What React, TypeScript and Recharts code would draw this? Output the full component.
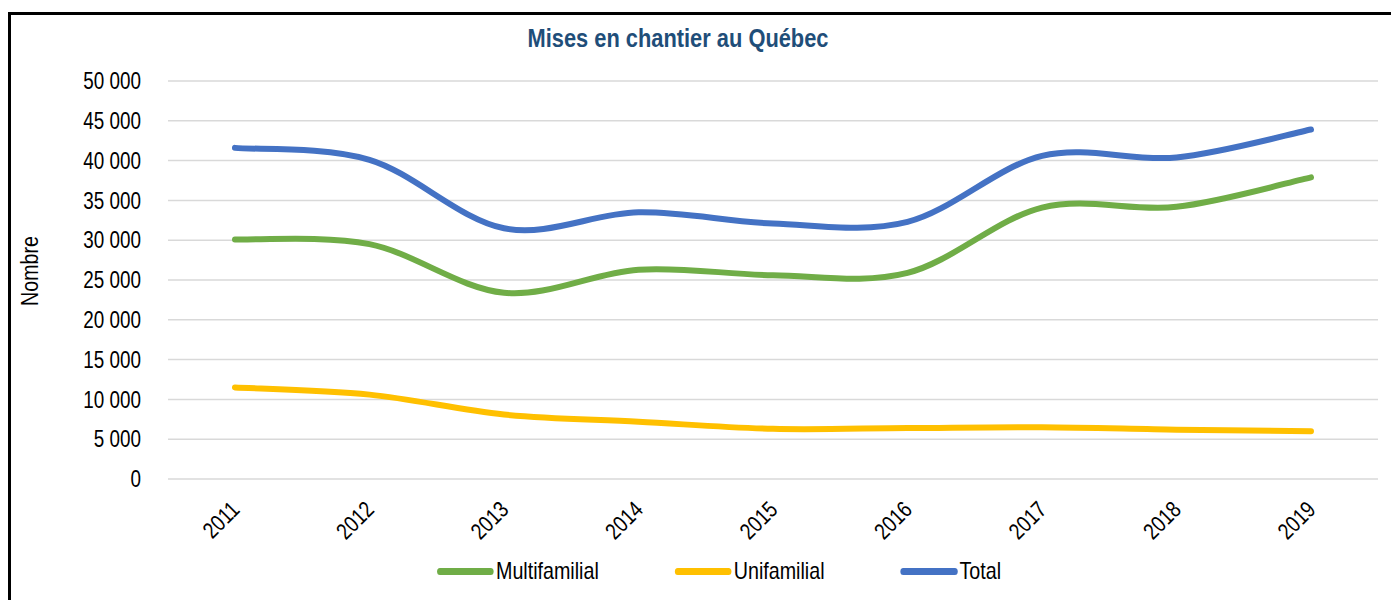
import React from 'react'
import { LineChart, Line, XAxis, YAxis, CartesianGrid, Legend, Label } from 'recharts'

const years = ['2011', '2012', '2013', '2014', '2015', '2016', '2017', '2018', '2019']
const multifamilial = [30100, 29500, 23400, 26300, 25600, 25900, 34100, 34200, 37900]
const unifamilial = [11500, 10600, 8100, 7200, 6300, 6400, 6500, 6200, 6000]
const total = [41600, 40100, 31500, 33500, 32100, 32300, 40600, 40400, 43900]
const yTicks = [0, 5000, 10000, 15000, 20000, 25000, 30000, 35000, 40000, 45000, 50000]

const series = [
  { key: 'Multifamilial', color: '#70AD47' },
  { key: 'Unifamilial', color: '#FFC000' },
  { key: 'Total', color: '#4472C4' },
]

const data = years.map((year, i) => ({
  year,
  Multifamilial: multifamilial[i],
  Unifamilial: unifamilial[i],
  Total: total[i],
}))

const FONT = "'Liberation Sans', Arial, sans-serif"
// no narrow font installed, so squeeze the regular one
const NARROW = 0.82

const formatNumber = (v: number) => String(v).replace(/\B(?=(\d{3})+(?!\d))/g, ' ')

// Excel style smoothing (Catmull-Rom through every point)
const excelCurve = (context: any) => {
  let pts: number[][] = []
  return {
    areaStart() {},
    areaEnd() {},
    lineStart() {
      pts = []
    },
    point(x: number, y: number) {
      pts.push([+x, +y])
    },
    lineEnd() {
      if (!pts.length) return
      context.moveTo(pts[0][0], pts[0][1])
      for (let i = 0; i < pts.length - 1; i++) {
        const p0 = pts[i - 1] || pts[i]
        const p1 = pts[i]
        const p2 = pts[i + 1]
        const p3 = pts[i + 2] || pts[i + 1]
        context.bezierCurveTo(
          p1[0] + (p2[0] - p0[0]) / 6,
          p1[1] + (p2[1] - p0[1]) / 6,
          p2[0] - (p3[0] - p1[0]) / 6,
          p2[1] - (p3[1] - p1[1]) / 6,
          p2[0],
          p2[1]
        )
      }
    },
  }
}

const YearTick = ({ x, y, payload }: any) => (
  <g transform={`translate(${x + 6},${y + 32}) rotate(-45) scale(${NARROW},1)`}>
    <text textAnchor="end" fill="#000" fontSize={23} fontFamily={FONT}>
      {payload.value}
    </text>
  </g>
)

const ValueTick = ({ x, y, payload }: any) => (
  <g transform={`translate(${x},${y}) scale(${NARROW},1)`}>
    <text textAnchor="end" dy="0.355em" fill="#000" fontSize={23} fontFamily={FONT}>
      {formatNumber(payload.value)}
    </text>
  </g>
)

const renderLegend = () => (
  <div
    style={{
      display: 'flex',
      alignItems: 'center',
      height: 30,
      paddingLeft: 437 / NARROW,
      gap: 76 / NARROW,
      fontFamily: FONT,
      fontSize: 24,
      color: '#000',
      transform: `scaleX(${NARROW})`,
      transformOrigin: '0 0',
      whiteSpace: 'nowrap',
    }}
  >
    {series.map((s) => (
      <div key={s.key} style={{ display: 'flex', alignItems: 'center', gap: 2 / NARROW }}>
        <div style={{ width: 57 / NARROW, height: 7, borderRadius: 4, background: s.color }} />
        <span>{s.key}</span>
      </div>
    ))}
  </div>
)

export default function App() {
  return (
    <div style={{ position: 'absolute', left: 0, top: 0, width: 1391, height: 600, overflow: 'hidden', background: '#fff' }}>
      <div
        style={{
          position: 'absolute',
          left: 8,
          top: 12,
          width: 1410,
          height: 620,
          border: '3px solid #000',
          boxSizing: 'border-box',
        }}
      />
      <div
        style={{
          position: 'absolute',
          left: 0,
          width: 1356,
          top: 23,
          textAlign: 'center',
          fontFamily: FONT,
          fontWeight: 'bold',
          fontSize: 26,
          color: '#1F4E79',
          transform: 'scaleX(0.84)',
          transformOrigin: '678px 0',
        }}
      >
        Mises en chantier au Québec
      </div>
      <div style={{ position: 'absolute', left: 0, top: 0 }}>
        <LineChart width={1391} height={600} data={data} margin={{ top: 81, right: 13, bottom: 14, left: 0 }}>
          <CartesianGrid vertical={false} stroke="#D9D9D9" strokeWidth={1.5} />
          <XAxis
            dataKey="year"
            axisLine={false}
            tickLine={false}
            tickSize={0}
            tickMargin={0}
            height={77}
            padding={{ left: 67, right: 67 }}
            interval={0}
            tick={<YearTick />}
          />
          <YAxis
            width={168}
            domain={[0, 50000]}
            ticks={yTicks}
            interval={0}
            axisLine={false}
            tickLine={false}
            tickSize={0}
            tickMargin={27}
            tick={<ValueTick />}
          >
            <Label
              content={() => (
                <g transform={`translate(38,271) rotate(-90) scale(${NARROW},1)`}>
                  <text textAnchor="middle" fill="#000" fontSize={24} fontFamily={FONT}>
                    Nombre
                  </text>
                </g>
              )}
            />
          </YAxis>
          <Legend verticalAlign="bottom" height={30} wrapperStyle={{ left: 0, width: 1391 }} content={renderLegend} />
          {series.map((s) => (
            <Line
              key={s.key}
              type={excelCurve as any}
              dataKey={s.key}
              stroke={s.color}
              strokeWidth={6}
              strokeLinecap="round"
              dot={false}
              activeDot={false}
              isAnimationActive={false}
            />
          ))}
        </LineChart>
      </div>
    </div>
  )
}
